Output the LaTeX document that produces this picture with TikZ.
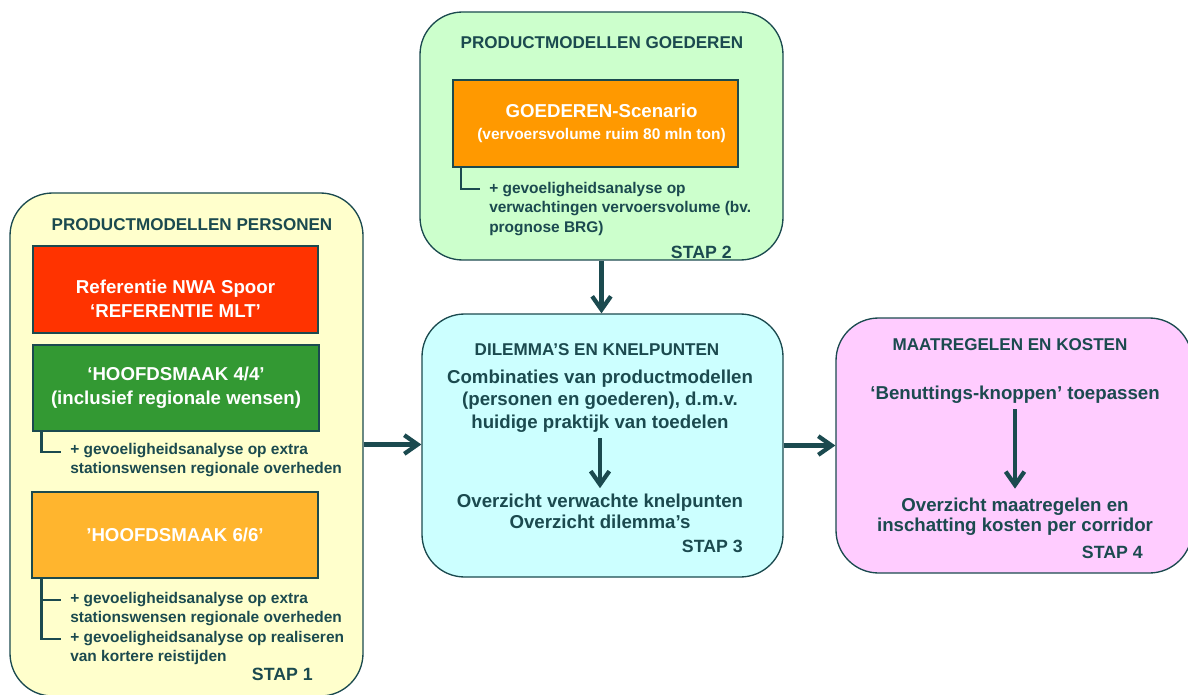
\documentclass[tikz,border=0pt]{standalone}
\usepackage{fontspec}
\setmainfont{Liberation Sans}
\usepackage{xcolor}
\usepackage{tikz}
\usetikzlibrary{arrows.meta,positioning,calc,fit}

\definecolor{inkteal}{HTML}{1B4A4F}
\definecolor{persfill}{HTML}{FFFFCC}
\definecolor{goedfill}{HTML}{CCFFCC}
\definecolor{dilfill}{HTML}{CCFFFF}
\definecolor{kostfill}{HTML}{FFCCFF}
\definecolor{refred}{HTML}{FF3300}
\definecolor{hfdgreen}{HTML}{339933}
\definecolor{hfdorange}{HTML}{FFB52E}
\definecolor{goedorange}{HTML}{FF9900}

\begin{document}
\begin{tikzpicture}[x=0.75pt,y=-0.75pt,
  panel/.style={draw=inkteal,line width=1pt,rounded corners=32pt,inner sep=0pt},
  modelbox/.style={draw=inkteal,line width=1.5pt,text=white,align=center,
    minimum width=214pt,minimum height=65pt,inner sep=0pt,
    font=\bfseries\fontsize{14}{18}\selectfont},
  hdr/.style={text=inkteal,inner sep=0pt,font=\bfseries\fontsize{12.8}{15}\selectfont},
  body/.style={text=inkteal,inner sep=0pt,align=center,font=\bfseries\fontsize{14}{17}\selectfont},
  note/.style={text=inkteal,inner sep=0pt,align=left,font=\bfseries\fontsize{11.6}{14.25}\selectfont},
  stap/.style={text=inkteal,inner sep=0pt,font=\bfseries\fontsize{13.3}{16}\selectfont},
  bracket/.style={draw=inkteal,line width=2pt},
  flow/.style={draw=inkteal,line width=3.2pt,-{Straight Barb[length=10pt,width=14pt]}}]
  \useasboundingbox (0,0) rectangle (1188,695);

  % panels
  \node[panel,fill=persfill,fit={(10,193) (363,696)}] (persons) {};
  \node[panel,fill=goedfill,fit={(420,12) (783,260)}] (goederen) {};
  \node[panel,fill=dilfill,fit={(422,314) (783,577)}] (dilemma) {};
  \node[panel,fill=kostfill,fit={(836,318) (1192,573)}] (kosten) {};

  % stap 1
  \node[hdr,anchor=base] (perhdr) at (192,231) {PRODUCTMODELLEN PERSONEN};
  \node[modelbox,fill=refred] (refmlt) at (175.5,289.5) {\rule{0pt}{24pt}Referentie NWA Spoor\\‘REFERENTIE MLT’};
  \node[modelbox,fill=hfdgreen] (hfd44) at (176,388) {‘HOOFDSMAAK 4/4’\\(inclusief regionale wensen)};
  \node[note,anchor=north west] (note44) at (70,443) {+ gevoeligheidsanalyse op extra\\stationswensen regionale overheden};
  \node[modelbox,fill=hfdorange] (hfd66) at (175,535) {’HOOFDSMAAK 6/6’};
  \node[note,anchor=north west] (note66a) at (70,592) {+ gevoeligheidsanalyse op extra\\stationswensen regionale overheden};
  \node[note,anchor=north west] (note66b) at (70,631) {+ gevoeligheidsanalyse op realiseren\\van kortere reistijden};
  \node[stap,anchor=base east] (stap1) at (313,680) {STAP 1};
  \draw[bracket] ($(hfd44.south west)+(9,0)$) |- ($(note44.north west)+(-9,9)$);
  \draw[bracket] ($(hfd66.south west)+(10,0)$) |- ($(note66a.north west)+(-9,8)$);
  \draw[bracket] ($(hfd66.south west)+(10,0)$) |- ($(note66b.north west)+(-9,8)$);

  % stap 2
  \node[hdr,anchor=base] (goedhdr) at (602,49) {PRODUCTMODELLEN GOEDEREN};
  \node[modelbox,fill=goedorange] (scenario) at (595.5,123.5) {\hspace*{9pt}GOEDEREN-Scenario\\[-2pt]{\fontsize{11.6}{14}\selectfont\hspace*{9pt}(vervoersvolume ruim 80 mln ton)}};
  \node[note,anchor=north west,font=\bfseries\fontsize{11.6}{14.6}\selectfont] (notegoed) at (489,182) {+ gevoeligheidsanalyse op\\verwachtingen vervoersvolume (bv.\\prognose BRG)};
  \node[stap,anchor=base east] (stap2) at (732,258) {STAP 2};
  \draw[bracket] ($(scenario.south west)+(9,0)$) |- ($(notegoed.north west)+(-9,7)$);

  % stap 3
  \node[hdr,anchor=base] (dilhdr) at (597,355) {DILEMMA’S EN KNELPUNTEN};
  \node[body,anchor=north] (combi) at (600,369.5) {Combinaties van productmodellen\\(personen en goederen), d.m.v.\\huidige praktijk van toedelen};
  \node[body,anchor=north,font=\bfseries\fontsize{14}{15.75}\selectfont] (knelp) at (600,493.5) {Overzicht verwachte knelpunten\\Overzicht dilemma’s};
  \node[stap,anchor=base east] (stap3) at (743,552) {STAP 3};
  \draw[flow,shorten <=4pt,shorten >=4pt] (combi.south) -- (knelp.north);

  % stap 4
  \node[hdr,anchor=base] (kosthdr) at (1010,350) {MAATREGELEN EN KOSTEN};
  \node[body,anchor=base] (knoppen) at (1015,399) {‘Benuttings-knoppen’ toepassen};
  \node[body,anchor=north,font=\bfseries\fontsize{14}{15}\selectfont] (maatr) at (1015,498) {Overzicht maatregelen en\\inschatting kosten per corridor};
  \node[stap,anchor=base east] (stap4) at (1143,558) {STAP 4};
  \draw[flow,shorten <=4.5pt,shorten >=7pt] (knoppen.south) -- (maatr.north);

  % between the steps
  \draw[flow] (persons.east) -- (persons.east -| dilemma.west);
  \draw[flow] (goederen.south) -- (goederen.south |- dilemma.north);
  \draw[flow] (dilemma.east) -- (dilemma.east -| kosten.west);
\end{tikzpicture}
\end{document}
